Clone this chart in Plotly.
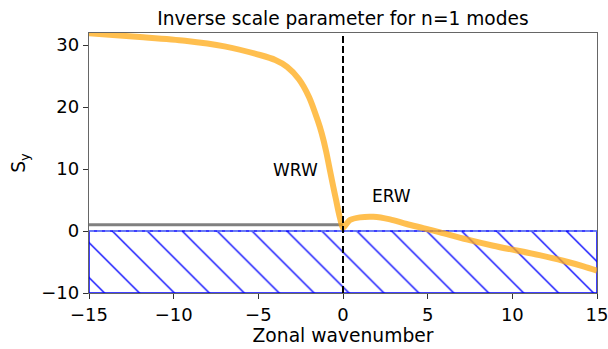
import plotly.graph_objects as go

# Westward Rossby wave (WRW) branch, n=1
k_wrw = [-15, -12, -9.33, -7, -4.9, -4.0, -3.3, -2.6, -2.0, -1.5, -1.26, -1.0,
         -0.75, -0.57, -0.4, -0.28, -0.15, -0.05, 0]
s_wrw = [31.9, 31.3, 30.7, 29.8, 28.4, 27.6, 26.5, 24.5, 21.6, 17.9, 15.8, 12.9,
         9.5, 7.1, 4.9, 3.3, 1.8, 0.8, 0.5]

# Eastward Rossby wave (ERW) branch, n=1
k_erw = [0, 0.41, 1.0, 1.79, 2.78, 3.76, 4.74, 5.73, 7.3, 8.88, 11.6, 13.0, 14.2, 15]
s_erw = [0.5, 1.77, 2.2, 2.3, 1.88, 1.13, 0.48, -0.21, -1.35, -2.37, -3.9, -4.8, -5.7, -6.4]

# Reference level S_y = 1 on the westward side
k_ref = [-15, 0]
s_ref = [1, 1]

# Forbidden region S_y < 0
k_box = [-15, 15, 15, -15, -15]
s_box = [-10, -10, 0, 0, -10]

x_range = [-15, 15]
y_range = [-10, 31.95]
x_ticks = [-15, -10, -5, 0, 5, 10, 15]
y_ticks = [-10, 0, 10, 20, 30]

FONT = "DejaVu Sans"
ORANGE = "rgba(255,170,20,0.75)"


def minus(v):
    return str(v).replace("-", "\u2212")


fig = go.Figure()

fig.add_trace(go.Scatter(
    x=k_box, y=s_box, mode="lines", fill="toself",
    fillcolor="white",
    fillpattern=dict(shape="\\", fgcolor="blue", bgcolor="white", fgopacity=1,
                     size=24.7, solidity=0.055, fillmode="replace"),
    line=dict(color="blue", width=1.5), hoverinfo="skip", showlegend=False,
))

fig.add_trace(go.Scatter(
    x=[x_range[0], x_range[1]], y=[0, 0], mode="lines",
    line=dict(color="lightblue", width=0.8, dash="5px,3px"),
    hoverinfo="skip", showlegend=False,
))

fig.add_trace(go.Scatter(
    x=k_ref, y=s_ref, mode="lines",
    line=dict(color="gray", width=3), showlegend=False,
))

fig.add_trace(go.Scatter(
    x=k_wrw + k_erw[1:], y=s_wrw + s_erw[1:], mode="lines",
    line=dict(color=ORANGE, width=6, shape="spline", smoothing=0.8),
    showlegend=False,
))

fig.add_trace(go.Scatter(
    x=[0, 0], y=y_range, mode="lines",
    line=dict(color="black", width=2, dash="7px,3px"),
    hoverinfo="skip", showlegend=False,
))

fig.add_annotation(x=-4.27, y=9.9, text="WRW", showarrow=False, xanchor="left",
                   yanchor="middle", font=dict(family=FONT, size=17, color="black"))
fig.add_annotation(x=1.59, y=5.65, text="ERW", showarrow=False, xanchor="left",
                   yanchor="middle", font=dict(family=FONT, size=17, color="black"))

axis_common = dict(
    showgrid=False, zeroline=False, showline=True, mirror=True,
    linecolor="rgba(0,0,0,0.6)", linewidth=1.3,
    ticks="outside", ticklen=5, tickwidth=1.2, tickcolor="#333",
    ticklabeloverflow="allow", automargin=False,
    tickfont=dict(family=FONT, size=18, color="black"),
)

fig.update_layout(
    width=608, height=349,
    margin=dict(l=89, r=11, t=33, b=56),
    paper_bgcolor="white", plot_bgcolor="white",
    title=dict(text="Inverse scale parameter for n=1 modes", x=0.5, xanchor="center",
               xref="paper", y=1 - 18 / 349, yref="container", yanchor="middle",
               font=dict(family=FONT, size=18.6, color="black")),
    xaxis=dict(range=x_range, tickvals=x_ticks, ticktext=[minus(v) for v in x_ticks],
               title=dict(text="Zonal wavenumber", standoff=1,
                          font=dict(family=FONT, size=18.7, color="black")),
               **axis_common),
    yaxis=dict(range=y_range, tickvals=y_ticks, ticktext=[minus(v) for v in y_ticks],
               title=dict(text="S<sub>y</sub>", standoff=10,
                          font=dict(family=FONT, size=18.7, color="black")),
               **axis_common),
)

fig.write_html("out.html")
